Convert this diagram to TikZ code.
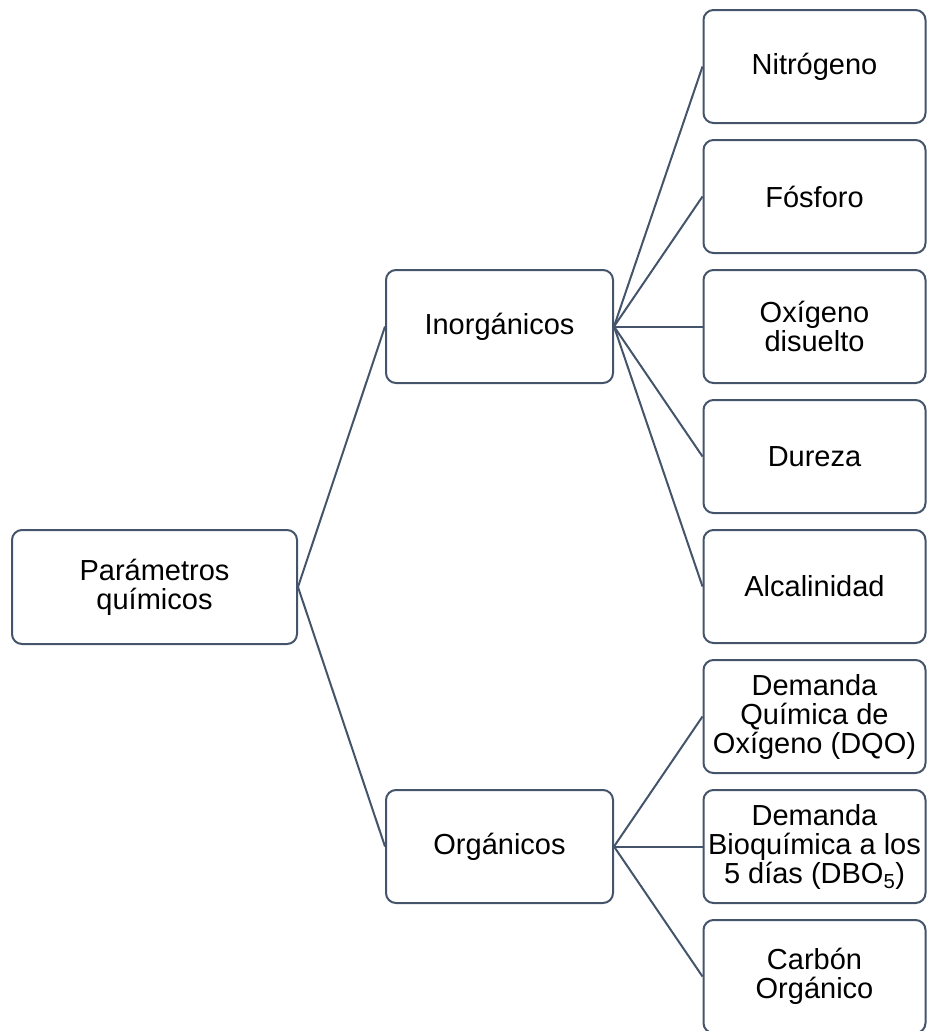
\documentclass[tikz,border=0pt]{standalone}
\usepackage{fontspec}
\setmainfont{Liberation Sans}
\definecolor{boxline}{HTML}{44546A}
\begin{document}
\begin{tikzpicture}[x=1pt,y=-1pt,
  box/.style={draw=boxline, line width=2pt, rounded corners=10pt, fill=white,
    align=center, inner sep=0pt, font=\fontsize{29}{29}\selectfont},
  leaf/.style={box, minimum width=222pt, minimum height=113pt},
  mid/.style={box, minimum width=227pt, minimum height=113pt},
  conn/.style={draw=boxline, line width=2pt}]
\useasboundingbox (0,0) rectangle (927,1031);
\node[box, minimum width=285pt, minimum height=114pt] (root) at (154.5,587) {Parámetros\\químicos};
\node[mid] (inorg) at (499.5,326.5) {Inorgánicos};
\node[mid] (org) at (499.5,846.5) {Orgánicos};
\node[leaf] (n1) at (814.5,66.5) {Nitrógeno};
\node[leaf] (n2) at (814.5,196.5) {Fósforo};
\node[leaf] (n3) at (814.5,326.5) {Oxígeno\\disuelto};
\node[leaf] (n4) at (814.5,456.5) {Dureza};
\node[leaf] (n5) at (814.5,586.5) {Alcalinidad};
\node[leaf] (o1) at (814.5,716.5) {Demanda\\Química de\\Oxígeno (DQO)};
\node[leaf] (o2) at (814.5,846.5) {Demanda\\Bioquímica a los\\5 días (DBO\textsubscript{5})};
\node[leaf] (o3) at (814.5,976.5) {Carbón\\Orgánico};
\draw[conn] (root.east) -- (inorg.west);
\draw[conn] (root.east) -- (org.west);
\foreach \n in {n1,n2,n3,n4,n5} \draw[conn] (inorg.east) -- (\n.west);
\foreach \n in {o1,o2,o3} \draw[conn] (org.east) -- (\n.west);
\end{tikzpicture}
\end{document}
